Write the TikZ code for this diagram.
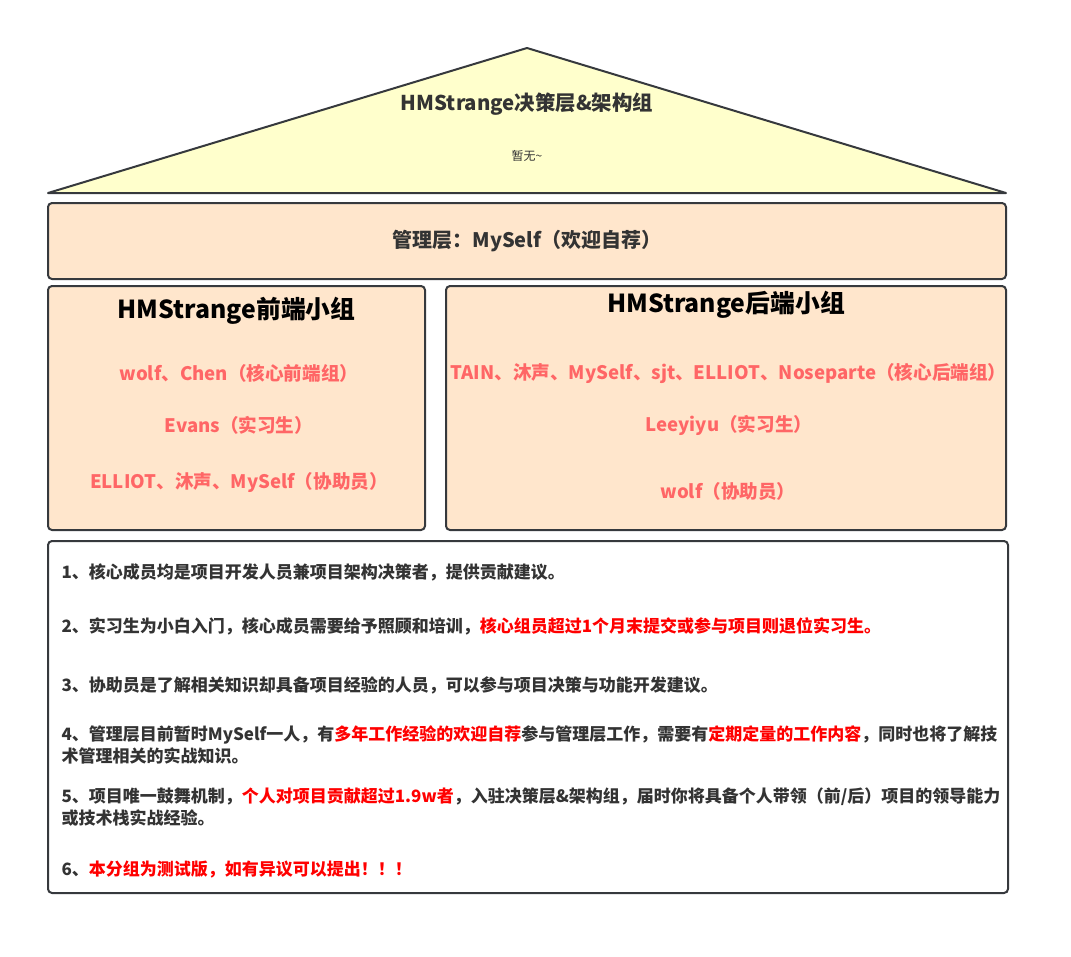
\documentclass[tikz,border=0pt]{standalone}
\usepackage{fontspec}
\setmainfont{Noto Sans CJK SC}
\definecolor{lineGray}{HTML}{36393D}
\definecolor{textGray}{HTML}{333333}
\definecolor{roofYellow}{HTML}{FFFFCC}
\definecolor{boxPeach}{HTML}{FFE6CC}
\definecolor{memberRed}{HTML}{FF6666}
\definecolor{noteRed}{HTML}{FF0000}
\newcommand{\redpart}[1]{{\color{noteRed}#1}}
\begin{document}
\begin{tikzpicture}[x=1pt, y=-1pt,
        box/.style={
            rectangle,
            rounded corners=4pt,
            draw=lineGray, line width=2pt,
            fill=boxPeach},
        grouptitle/.style={
            font=\fontsize{24.8}{28}\selectfont\bfseries,
            text=black},
        member/.style={
            font=\fontsize{18.6}{22}\selectfont\bfseries,
            text=memberRed},
        note/.style={
            anchor=west,
            align=left,
            font=\fontsize{17}{22}\selectfont\bfseries,
            text=textGray}
        ]

        \useasboundingbox (0,0) rectangle (1071,956);

        % roof
        \coordinate (apex) at (527,48);
        \coordinate (roofL) at (48,193);
        \coordinate (roofR) at (1006,193);
        \draw [fill=roofYellow, draw=lineGray, line width=2pt, line join=round] (roofL) -- (apex) -- (roofR) -- cycle;
        \node (roofTitle) at (527,104) [font=\fontsize{20.4}{24}\selectfont\bfseries, text=textGray] {HMStrange决策层\&架构组};
        \node (roofNote) at (527,156) [font=\fontsize{12}{14}\selectfont, text=textGray] {暂无\textasciitilde};

        % management
        \node (manage) at (527,241) [box, minimum width=958pt, minimum height=76pt,
            font=\fontsize{20}{24}\selectfont\bfseries, text=textGray] {管理层：MySelf（欢迎自荐）};

        % front-end group
        \node (front) at (236.5,408) [box, minimum width=377pt, minimum height=244pt] {};
        \node (frontTitle) at (236.5,311) [grouptitle] {HMStrange前端小组};
        \node (frontCore) at (239,373) [member] {wolf、Chen（核心前端组）};
        \node (frontIntern) at (239,425) [member] {Evans（实习生）};
        \node (frontHelp) at (239,483) [member] {ELLIOT、沐声、MySelf（协助员）};

        % back-end group
        \node (back) at (726,408) [box, minimum width=560pt, minimum height=244pt] {};
        \node (backTitle) at (726,305) [grouptitle] {HMStrange后端小组};
        \node (backCore) at (728.5,373) [member] {TAIN、沐声、MySelf、sjt、ELLIOT、Noseparte（核心后端组）};
        \node (backIntern) at (729,425) [member] {Leeyiyu（实习生）};
        \node (backHelp) at (728,491) [member] {wolf（协助员）};

        % rules
        \node (rules) at (528,717) [box, fill=white, minimum width=960pt, minimum height=352pt] {};
        \node (rule1) at (58,572) [note] {1、核心成员均是项目开发人员兼项目架构决策者，提供贡献建议。};
        \node (rule2) at (58,626) [note] {2、实习生为小白入门，核心成员需要给予照顾和培训，\redpart{核心组员超过1个月末提交或参与项目则退位实习生。}};
        \node (rule3) at (58,685) [note] {3、协助员是了解相关知识却具备项目经验的人员，可以参与项目决策与功能开发建议。};
        \node (rule4) at (58,745) [note] {4、管理层目前暂时MySelf一人，有\redpart{多年工作经验的欢迎自荐}参与管理层工作，需要有\redpart{定期定量的工作内容}，同时也将了解技\\术管理相关的实战知识。};
        \node (rule5) at (58,807) [note] {5、项目唯一鼓舞机制，\redpart{个人对项目贡献超过1.9w者}，入驻决策层\&架构组，届时你将具备个人带领（前/后）项目的领导能力\\或技术栈实战经验。};
        \node (rule6) at (58,869) [note] {6、\redpart{本分组为测试版，如有异议可以提出！！！}};

\end{tikzpicture}
\end{document}
